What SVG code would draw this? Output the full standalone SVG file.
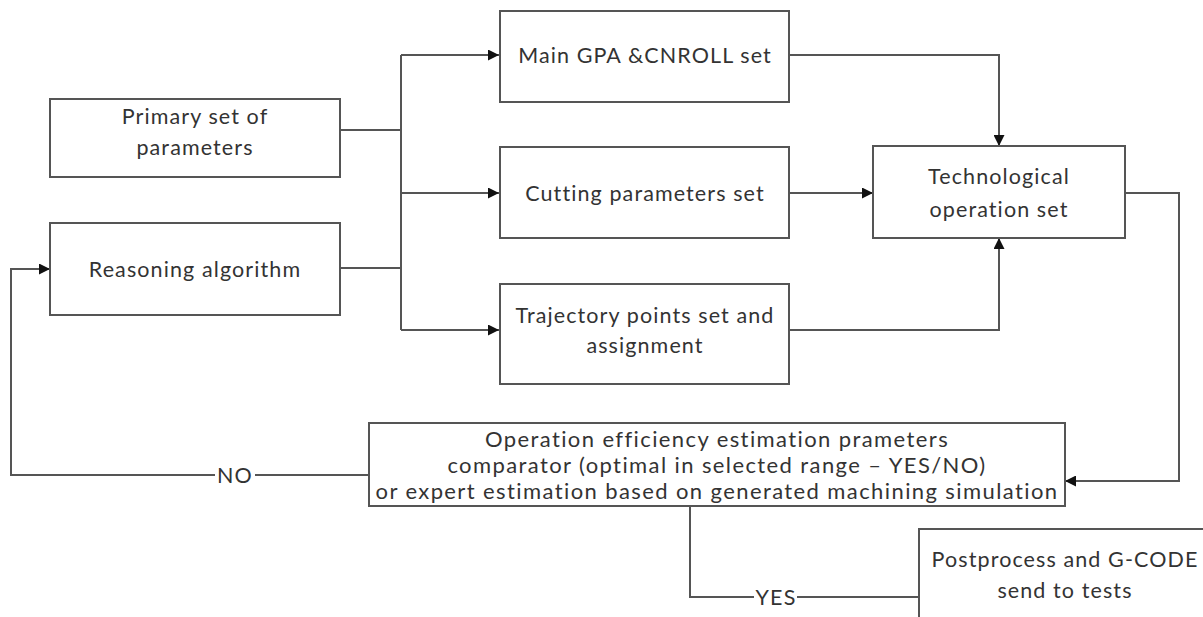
<svg xmlns="http://www.w3.org/2000/svg" width="1203" height="617" viewBox="0 0 1203 617">
<style>
.box{fill:#fff;stroke:#555;stroke-width:2}
.t{font-family:Lato,"Open Sans","Liberation Sans",sans-serif;font-size:21.5px;letter-spacing:1.1px;fill:#333;text-anchor:middle}
.big{font-size:22px;letter-spacing:1.4px}
.c{fill:none;stroke:#555;stroke-width:2}
</style>
<defs>
<marker id="ah" viewBox="0 0 10 10" refX="10" refY="5" markerWidth="11" markerHeight="11" markerUnits="userSpaceOnUse" orient="auto">
<path d="M0,0 L10,5 L0,10 z" fill="#111"/>
</marker>
</defs>
<rect width="1203" height="617" fill="#fff"/>
<g id="connectors">
<path class="c" d="M340,130 H401"/>
<path class="c" d="M340,268 H401"/>
<path class="c" d="M401,55 V330"/>
<path class="c" d="M401,55 H499" marker-end="url(#ah)"/>
<path class="c" d="M401,193 H499" marker-end="url(#ah)"/>
<path class="c" d="M401,330 H499" marker-end="url(#ah)"/>
<path class="c" d="M789,55 H999 V146" marker-end="url(#ah)"/>
<path class="c" d="M789,193 H873" marker-end="url(#ah)"/>
<path class="c" d="M789,330 H999 V238" marker-end="url(#ah)"/>
<path class="c" d="M1125,193 H1179 V481 H1065" marker-end="url(#ah)"/>
<path class="c" d="M369,475 H255"/>
<path class="c" d="M215,475 H11 V269 H50" marker-end="url(#ah)"/>
<text class="t" x="235" y="483">NO</text>
<path class="c" d="M690,506 V597 H754"/>
<path class="c" d="M797,597 H919"/>
<text class="t" x="776" y="605">YES</text>
</g>
<g id="primary">
<rect class="box" x="50" y="99" width="290" height="78"/>
<text class="t" x="195" y="124">Primary set of</text>
<text class="t" x="195" y="155">parameters</text>
</g>
<g id="reasoning">
<rect class="box" x="50" y="223" width="290" height="92"/>
<text class="t" x="195" y="277">Reasoning algorithm</text>
</g>
<g id="main">
<rect class="box" x="500" y="11" width="289" height="91"/>
<text class="t" x="645" y="63">Main GPA &amp;CNROLL set</text>
</g>
<g id="cutting">
<rect class="box" x="500" y="147" width="289" height="91"/>
<text class="t" x="645" y="201">Cutting parameters set</text>
</g>
<g id="trajectory">
<rect class="box" x="500" y="284" width="289" height="100"/>
<text class="t" x="645" y="323">Trajectory points set and</text>
<text class="t" x="645" y="353">assignment</text>
</g>
<g id="tech">
<rect class="box" x="873" y="146" width="252" height="92"/>
<text class="t" x="999" y="184">Technological</text>
<text class="t" x="999" y="217">operation set</text>
</g>
<g id="comparator">
<rect class="box" x="369" y="423" width="696" height="83"/>
<text class="t big" x="717" y="447">Operation efficiency estimation prameters</text>
<text class="t big" x="717" y="473">comparator (optimal in selected range – YES/NO)</text>
<text class="t big" x="717" y="499">or expert estimation based on generated machining simulation</text>
</g>
<g id="postprocess">
<rect class="box" x="919" y="529" width="300" height="100"/>
<text class="t" x="1065" y="567">Postprocess and G-CODE</text>
<text class="t" x="1065" y="598">send to tests</text>
</g>
</svg>
